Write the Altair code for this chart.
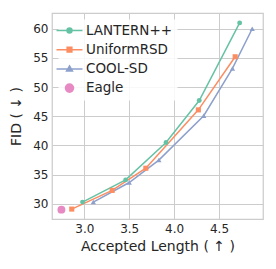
import altair as alt
import pandas as pd

series_names = ["LANTERN++", "UniformRSD", "COOL-SD", "Eagle"]
colors = ["#66c2a5", "#fc8d62", "#8da0cb", "#e78ac3"]

lantern_x = [2.98, 3.46, 3.91, 4.28, 4.73]
lantern_y = [30.3, 34.1, 40.5, 47.7, 61.0]
uniform_x = [2.86, 3.31, 3.685, 4.27, 4.68]
uniform_y = [29.1, 32.3, 36.1, 46.1, 55.2]
cool_x = [3.10, 3.50, 3.83, 4.33, 4.65, 4.87]
cool_y = [30.3, 33.65, 37.5, 45.1, 53.2, 60.0]
eagle_x = [2.745]
eagle_y = [29.0]

x_ticks = [3.0, 3.5, 4.0, 4.5]
y_ticks = [30, 35, 40, 45, 50, 55, 60]

rows = []
for name, xs, ys in [("LANTERN++", lantern_x, lantern_y),
                     ("UniformRSD", uniform_x, uniform_y),
                     ("COOL-SD", cool_x, cool_y),
                     ("Eagle", eagle_x, eagle_y)]:
    for i, (a, b) in enumerate(zip(xs, ys)):
        rows.append({"series": name, "x": a, "y": b, "order": i})
df = pd.DataFrame(rows)

FONT = "DejaVu Sans"
cscale = alt.Scale(domain=series_names, range=colors)

X = alt.X("x:Q", scale=alt.Scale(domain=[2.64, 4.99], nice=False, zero=False),
          axis=alt.Axis(values=x_ticks, format=".1f", title="Accepted Length ( ↑ )"))
Y = alt.Y("y:Q", scale=alt.Scale(domain=[27.4, 62.7], nice=False, zero=False),
          axis=alt.Axis(values=y_ticks, format="d", title="FID ( ↓ )"))

base = alt.Chart(df)

leg_paths = [
    "M-2,0H2M-0.38,0A0.38,0.38 0 1,1 0.38,0A0.38,0.38 0 1,1 -0.38,0Z",
    "M-2,0H2M-0.36,-0.36H0.36V0.36H-0.36Z",
    "M-2,0H2M0,-0.45L0.45,0.33H-0.45Z",
    "M-0.62,0A0.62,0.62 0 1,1 0.62,0A0.62,0.62 0 1,1 -0.62,0Z",
]

COLOR = alt.Color("series:N", scale=cscale, sort=series_names, title=None)

legend_layer = base.mark_point(filled=True, opacity=0, size=1).encode(
    x=X, y=Y,
    color=COLOR,
    stroke=alt.Stroke("series:N", scale=alt.Scale(domain=series_names, range=colors),
                      sort=series_names, title=None),
    shape=alt.Shape("series:N", scale=alt.Scale(domain=series_names, range=leg_paths),
                    sort=series_names, title=None),
)

lines = base.transform_filter(alt.datum.series != "Eagle").mark_line(strokeWidth=1.5).encode(
    x=X, y=Y, order="order:O", color=COLOR,
)

def markers(name, shape, size):
    return base.transform_filter(alt.datum.series == name).mark_point(
        filled=True, shape=shape, size=size, opacity=1
    ).encode(x=X, y=Y, color=COLOR)

m1 = markers("LANTERN++", "circle", 24)
m2 = markers("UniformRSD", "square", 26)
m3 = markers("COOL-SD", "triangle-up", 28)
m4 = markers("Eagle", "circle", 62)

chart = alt.layer(legend_layer, lines, m1, m2, m3, m4).properties(
    width=211, height=206,
    padding={"left": 44, "top": 5, "right": 5, "bottom": 42},
    autosize="none",
).configure_view(
    stroke="#cccccc", strokeWidth=1.25
).configure_axis(
    labelFont=FONT, labelFontSize=12, labelColor="#262626",
    titleFont=FONT, titleFontSize=14, titleFontWeight="normal", titleColor="#262626",
    domain=False, ticks=False, grid=True, gridColor="#cccccc", gridWidth=1,
).configure_axisX(titlePadding=5, labelPadding=4).configure_axisY(titlePadding=9, labelPadding=4).configure_legend(
    orient="none", legendX=6, legendY=6,
    labelFont=FONT, labelFontSize=13.5, labelColor="#262626",
    symbolSize=169, symbolStrokeWidth=1.5, symbolOpacity=1,
    rowPadding=5.2, labelOffset=9, padding=4,
    fillColor="rgba(255,255,255,0.85)", strokeColor="transparent",
)

chart.save("out.html", embed_options={"renderer": "svg", "actions": False})
